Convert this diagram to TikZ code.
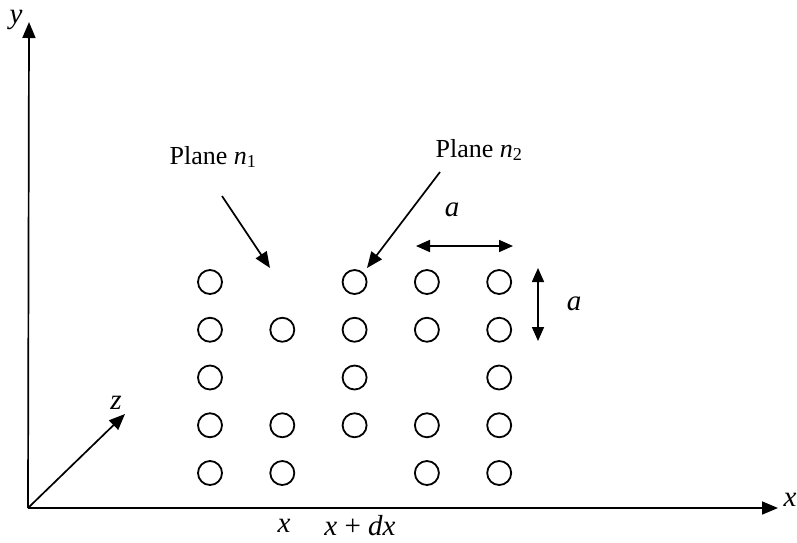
\documentclass[tikz,border=0pt]{standalone}
\usepackage{fontspec}
\setmainfont{Liberation Serif}
\usetikzlibrary{arrows.meta}
\begin{document}
\begin{tikzpicture}[x=1pt,y=-1pt,
  atom/.style={circle,draw,line width=1.8pt,minimum size=24pt,inner sep=0pt},
  ax/.style={line width=1.7pt,-{Triangle[length=16pt,width=13pt]}},
  dbl/.style={line width=1.7pt,{Triangle[length=14pt,width=12pt]}-{Triangle[length=14pt,width=12pt]}},
  lbl/.style={inner sep=0pt,font=\fontsize{26}{30}\selectfont},
  mlbl/.style={inner sep=0pt,font=\fontsize{29}{33}\selectfont\itshape}]
\useasboundingbox (0,0) rectangle (797,542);
% axes
\coordinate (O) at (28,508);
\coordinate (Y) at (29,22);
\coordinate (X) at (778,508);
\coordinate (Z) at (125,414);
\draw[ax] (O) -- (Y);
\draw[ax] (O) -- (X);
\draw[ax] (O) -- (Z);
\node[mlbl] (ylab) at (16,20) {y};
\node[mlbl] (xlab) at (790,500) {x};
\node[mlbl] (zlab) at (116,403) {z};
\node[mlbl] (xb) at (284,526) {x};
\node[mlbl] (xdx) at (360,526) {x\hspace{0.25em}\upshape+\hspace{0.25em}\itshape dx};
% atoms
\foreach \c/\r/\n in {1/1/a11,3/1/a31,4/1/a41,5/1/a51,
  1/2/a12,2/2/a22,3/2/a32,4/2/a42,5/2/a52,
  1/3/a13,3/3/a33,5/3/a53,
  1/4/a14,2/4/a24,3/4/a34,4/4/a44,5/4/a54,
  1/5/a15,2/5/a25,4/5/a45,5/5/a55}
  \node[atom] (\n) at ({210+72.3*(\c-1)},{282+47.75*(\r-1)}) {};
% plane labels
\node[lbl] (p1) at (213,157) {Plane \textit{n}\textsubscript{1}};
\node[lbl] (p2) at (479,150) {Plane \textit{n}\textsubscript{2}};
\coordinate (p1s) at (222,196);
\coordinate (p1e) at (270,268);
\coordinate (p2s) at (440,172);
\coordinate (p2e) at (367,268);
\draw[ax] (p1s) -- (p1e);
\draw[ax] (p2s) -- (p2e);
% spacing a
\coordinate (h1) at (416,246);
\coordinate (h2) at (513,246);
\draw[dbl] (h1) -- (h2);
\node[mlbl] (ah) at (452,210) {a};
\coordinate (v1) at (538,268);
\coordinate (v2) at (538,341);
\draw[dbl] (v1) -- (v2);
\node[mlbl] (av) at (574,304) {a};
\end{tikzpicture}
\end{document}
